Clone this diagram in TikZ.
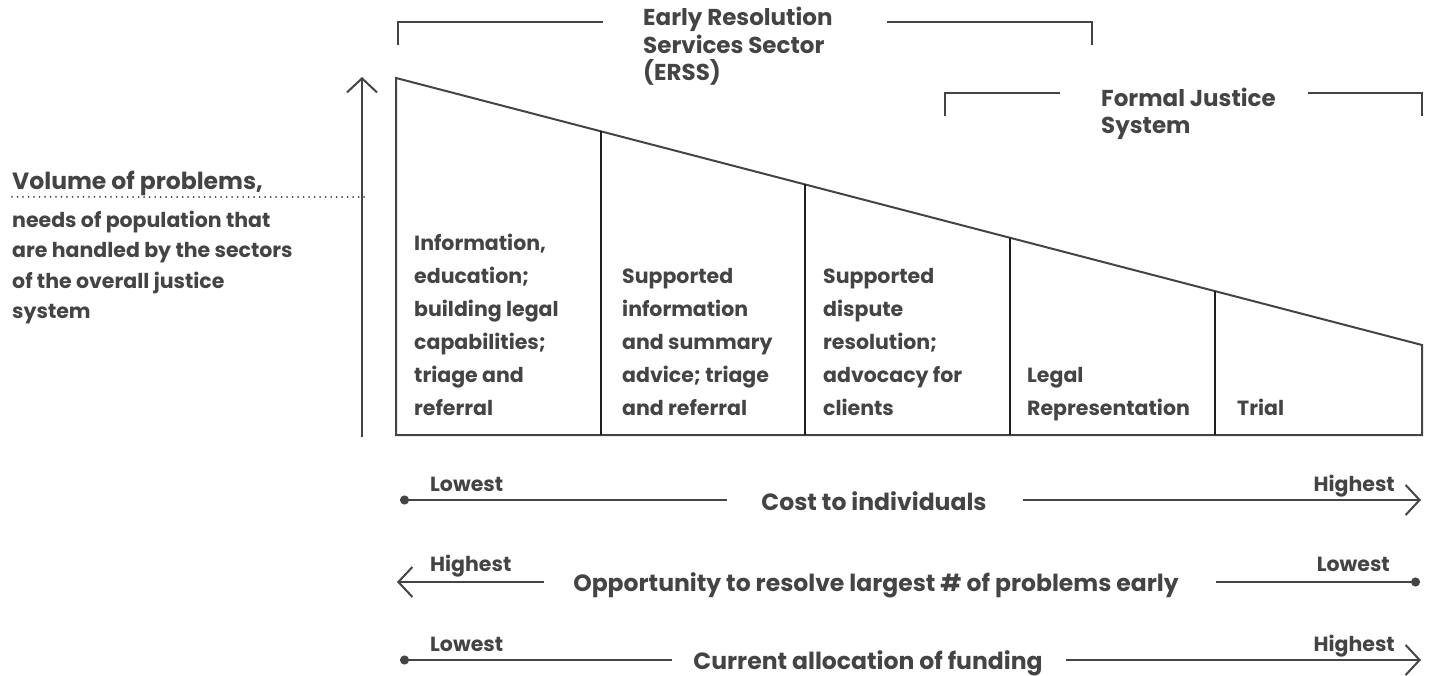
\documentclass[tikz,border=0pt]{standalone}
\usepackage{fontspec}
\setmainfont{Poppins}
\usetikzlibrary{arrows.meta,calc}
\definecolor{ink}{HTML}{444444}
\definecolor{dark}{HTML}{1E1E1E}
\begin{document}
\begin{tikzpicture}[x=1pt,y=-1pt,
  ln/.style={draw=ink, line width=2pt},
  divln/.style={draw=dark, line width=2pt},
  tipend/.style={-{Straight Barb[length=14pt,width=30pt]}},
  tipstart/.style={{Straight Barb[length=14pt,width=30pt]}-},
  dotstart/.style={{Circle[length=9pt,width=9pt]}-},
  dotend/.style={-{Circle[length=9pt,width=9pt]}},
  celltxt/.style={text=ink, font=\bfseries\fontsize{20.5}{33}\selectfont, align=left, anchor=base west, inner sep=0pt},
  headtxt/.style={text=ink, font=\bfseries\fontsize{23}{27.5}\selectfont, align=left, anchor=base west, inner sep=0pt},
  voltxt/.style={text=ink, font=\bfseries\fontsize{23.5}{28}\selectfont, anchor=base west, inner sep=0pt},
  subtxt/.style={text=ink, font=\bfseries\fontsize{20.5}{30.5}\selectfont, align=left, anchor=base west, inner sep=0pt},
  axistxt/.style={text=ink, font=\bfseries\fontsize{23.5}{28}\selectfont, anchor=base, inner sep=0pt},
  lbltxt/.style={text=ink, font=\bfseries\fontsize{20.5}{24}\selectfont, inner sep=0pt}
]
\useasboundingbox (0,0) rectangle (1432,676);

% ---- brackets
\coordinate (e1) at (398,45); \coordinate (e2) at (398,22); \coordinate (e3) at (603,22);
\coordinate (e4) at (887,22); \coordinate (e5) at (1092,22); \coordinate (e6) at (1092,45);
\draw[ln] (e1) -- (e2) -- (e3);
\draw[ln] (e4) -- (e5) -- (e6);
\node[headtxt] (erss) at (643,81) {Early Resolution\\Services Sector\\(ERSS)};

\coordinate (f1) at (945,116); \coordinate (f2) at (945,93); \coordinate (f3) at (1060,93);
\coordinate (f4) at (1308,93); \coordinate (f5) at (1422,93); \coordinate (f6) at (1422,116);
\draw[ln] (f1) -- (f2) -- (f3);
\draw[ln] (f4) -- (f5) -- (f6);
\node[headtxt] (fjs) at (1101,134) {Formal Justice\\System};

% ---- vertical arrow
\coordinate (vb) at (362,437); \coordinate (vt) at (362,77);
\draw[ln,tipend] (vb) -- (vt);

% ---- left text
\node[voltxt] (vol) at (12,190) {Volume of problems,};
\coordinate (dl) at (12,197); \coordinate (dr) at (365,197);
\draw[draw=ink, line width=2pt, line cap=round, dash pattern=on 0pt off 5.5pt] (dl) -- (dr);
\node[subtxt] (needs) at (12,319) {needs of population that\\are handled by the sectors\\of the overall justice\\system};

% ---- trapezoid
\coordinate (tl) at (396,78); \coordinate (tr) at (1422,345);
\coordinate (br) at (1422,435); \coordinate (bl) at (396,435);
\draw[ln, line join=miter] (tl) -- (tr) -- (br) -- (bl) -- cycle;
\foreach \x/\n in {601/d1,805/d2,1010/d3,1215/d4}{
  \pgfmathsetmacro{\yy}{78+0.260234*(\x-396)}
  \coordinate (\n t) at (\x,\yy);
  \coordinate (\n b) at (\x,435);
  \draw[divln] (\n t) -- (\n b);
}
\node[celltxt] (c1) at (414,415) {Information,\\education;\\building legal\\capabilities;\\triage and\\referral};
\node[celltxt] (c2) at (622,415) {Supported\\information\\and summary\\advice; triage\\and referral};
\node[celltxt] (c3) at (823,415) {Supported\\dispute\\resolution;\\advocacy for\\clients};
\node[celltxt] (c4) at (1027,415) {Legal\\Representation};
\node[celltxt] (c5) at (1237,415) {Trial};

% ---- axis 1
\node[axistxt] (a1) at (874,510) {Cost to individuals};
\coordinate (a1s) at (400,500); \coordinate (a1m) at (727,500);
\coordinate (a1n) at (1023,500); \coordinate (a1e) at (1421,500);
\draw[ln,dotstart] (a1s) -- (a1m);
\draw[ln,tipend] (a1n) -- (a1e);
\node[lbltxt, anchor=base west] (a1l) at (430,491) {Lowest};
\node[lbltxt, anchor=base east] (a1h) at (1395,491) {Highest};

% ---- axis 2
\node[axistxt] (a2) at (876,591) {Opportunity to resolve largest \# of problems early};
\coordinate (a2s) at (397,582); \coordinate (a2m) at (544,582);
\coordinate (a2n) at (1216,582); \coordinate (a2e) at (1420,582);
\draw[ln,tipstart] (a2s) -- (a2m);
\draw[ln,dotend] (a2n) -- (a2e);
\node[lbltxt, anchor=base west] (a2h) at (430,571) {Highest};
\node[lbltxt, anchor=base east] (a2l) at (1390,571) {Lowest};

% ---- axis 3
\node[axistxt] (a3) at (868,669) {Current allocation of funding};
\coordinate (a3s) at (400,660); \coordinate (a3m) at (672,660);
\coordinate (a3n) at (1066,660); \coordinate (a3e) at (1421,660);
\draw[ln,dotstart] (a3s) -- (a3m);
\draw[ln,tipend] (a3n) -- (a3e);
\node[lbltxt, anchor=base west] (a3l) at (430,651) {Lowest};
\node[lbltxt, anchor=base east] (a3h) at (1395,651) {Highest};
\end{tikzpicture}
\end{document}
